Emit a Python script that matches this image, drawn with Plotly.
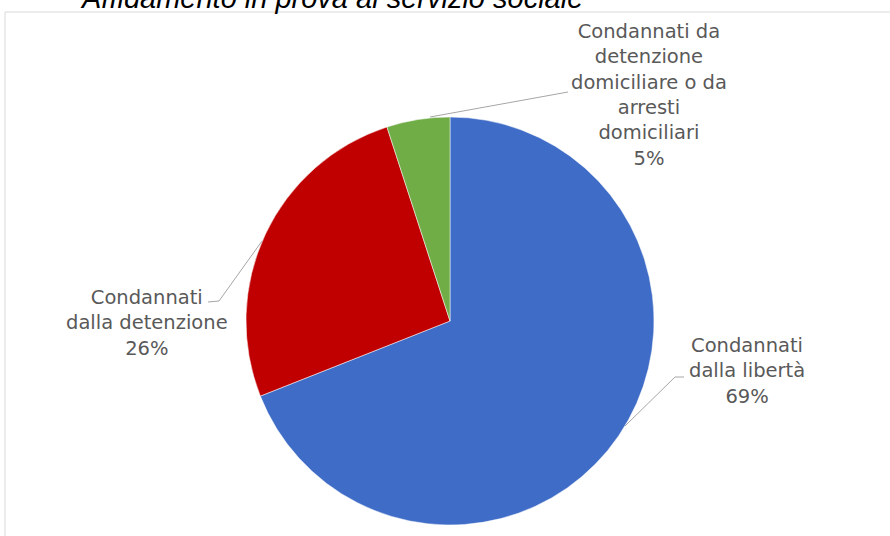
import plotly.graph_objects as go

W, H = 890, 536

title_text = "Affidamento in prova al servizio sociale"
categories = ["Condannati dalla libertà",
              "Condannati dalla detenzione",
              "Condannati da detenzione domiciliare o da arresti domiciliari"]
values = [69, 26, 5]
wrapped_labels = ["Condannati<br>dalla libertà",
                  "Condannati<br>dalla detenzione",
                  "Condannati da<br>detenzione<br>domiciliare o da<br>arresti<br>domiciliari"]
colors = ["#3F6CC6", "#C00000", "#70AD47"]


def px(x):
    return x / W


def py(y):
    return (H - y) / H


cx, cy, r = 450, 321, 204

fig = go.Figure(go.Pie(
    labels=categories,
    values=values,
    sort=False,
    direction="clockwise",
    rotation=0,
    marker=dict(colors=colors, line=dict(color="white", width=0.5)),
    textinfo="none",
    hoverinfo="label+percent",
    showlegend=False,
    domain=dict(x=[px(cx - r), px(cx + r)], y=[py(cy + r), py(cy - r)]),
))

total = sum(values)
label_pos = [(747, 371), (147, 323), (649, 95)]
annotations = []
for lab, v, (lx, ly) in zip(wrapped_labels, values, label_pos):
    annotations.append(dict(
        text=f"{lab}<br>{round(v / total * 100)}%",
        x=px(lx), y=py(ly), xref="paper", yref="paper",
        xanchor="center", yanchor="middle", showarrow=False, align="center",
        font=dict(family="DejaVu Sans", size=19.5, color="#595959"),
    ))

annotations.append(dict(
    text=f"<i>{title_text}</i>", x=px(331), y=py(-2), xref="paper", yref="paper",
    xanchor="center", yanchor="middle", showarrow=False,
    font=dict(family="Liberation Sans", size=29, color="#000000"),
))

leader_color = "#A6A6A6"
leaders = [
    [(625, 426), (675, 377), (684, 377)],
    [(262, 241), (219, 301), (208, 302)],
    [(430, 117), (568, 92)],
]
shapes = [dict(type="rect", xref="paper", yref="paper",
               x0=px(5), x1=px(905), y0=py(545), y1=py(12),
               line=dict(color="#D9D9D9", width=1), layer="below")]
for pts in leaders:
    for (x0, y0), (x1, y1) in zip(pts[:-1], pts[1:]):
        shapes.append(dict(type="line", xref="paper", yref="paper",
                           x0=px(x0), y0=py(y0), x1=px(x1), y1=py(y1),
                           line=dict(color=leader_color, width=1)))

fig.update_layout(
    width=W, height=H,
    margin=dict(l=0, r=0, t=0, b=0),
    paper_bgcolor="white", plot_bgcolor="white",
    annotations=annotations, shapes=shapes,
)

fig.write_html("out.html", config={"displayModeBar": False},
               post_script="document.body.style.margin='0';document.body.style.overflow='hidden';")
